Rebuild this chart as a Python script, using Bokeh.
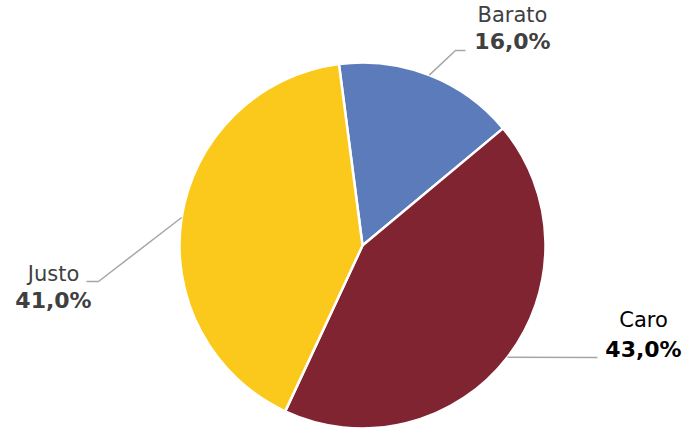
import math
from bokeh.plotting import figure
from bokeh.models import Range1d, ColumnDataSource
from bokeh.core.properties import value
from bokeh.embed import file_html
from bokeh.resources import INLINE

# ---- data ----
categories = ["Barato", "Caro", "Justo"]
percent = [16.0, 43.0, 41.0]
pct_labels = ["16,0%", "43,0%", "41,0%"]

# ---- style ----
colors = ["#5B7BBA", "#7F2430", "#FBC91B"]
label_colors = ["#404040", "#000000", "#404040"]
W, H = 686, 430
CX, CY, R = 362, 245, 183          # pie centre / radius in page pixels
START = -7.4                       # first slice start, degrees clockwise from 12 o'clock
TEXT_SHIFT = -8                    # baseline correction for rendered text
# label anchors (page pixels): (name x, name baseline, pct baseline, elbow x, elbow y, end x, end y)
label_pos = [
    (512, 22, 49, 455, 50, 465, 50),
    (643, 327, 357, 597, 357, 597, 357),
    (53, 281, 308, 98, 281, 86, 281),
]

def Y(py):
    return 430 - py

p = figure(width=W, height=H, output_backend="svg", toolbar_location=None,
           x_range=Range1d(0, W), y_range=Range1d(430 - H, 430),
           min_border=0)
p.axis.visible = False
p.grid.visible = False
p.outline_line_color = None
p.background_fill_color = "white"
p.border_fill_color = "white"

total = sum(percent)
starts, ends, mids = [], [], []
cum = 0.0
for v in percent:
    ts = START + cum / total * 360.0
    te = ts + v / total * 360.0
    starts.append(math.radians(90 - ts))
    ends.append(math.radians(90 - te))
    mids.append((ts + te) / 2)
    cum += v

src = ColumnDataSource(dict(start=starts, end=ends, color=colors, cat=categories))
p.wedge(x=CX, y=Y(CY), radius=R, start_angle="start", end_angle="end",
        direction="clock", fill_color="color", line_color="white", line_width=2.5,
        source=src)

for i, cat in enumerate(categories):
    nx, nb, pb, ex, ey, fx, fy = label_pos[i]
    th = math.radians(mids[i])
    sx = CX + R * math.sin(th)
    sy = CY - R * math.cos(th)
    p.line([sx, ex, fx], [Y(sy), Y(ey), Y(fy)], line_color="#A6A6A6", line_width=1.5)
    p.text(x=[nx], y=[Y(nb + TEXT_SHIFT)], text=[cat], text_font=value("DejaVu Sans"),
           text_font_size="21px", text_align="center", text_baseline="alphabetic",
           text_color=label_colors[i])
    p.text(x=[nx], y=[Y(pb + TEXT_SHIFT)], text=[pct_labels[i]], text_font=value("DejaVu Sans"),
           text_font_size="22px", text_font_style="bold", text_align="center",
           text_baseline="alphabetic", text_color=label_colors[i])

open("out.html", "w").write(file_html(p, INLINE))
